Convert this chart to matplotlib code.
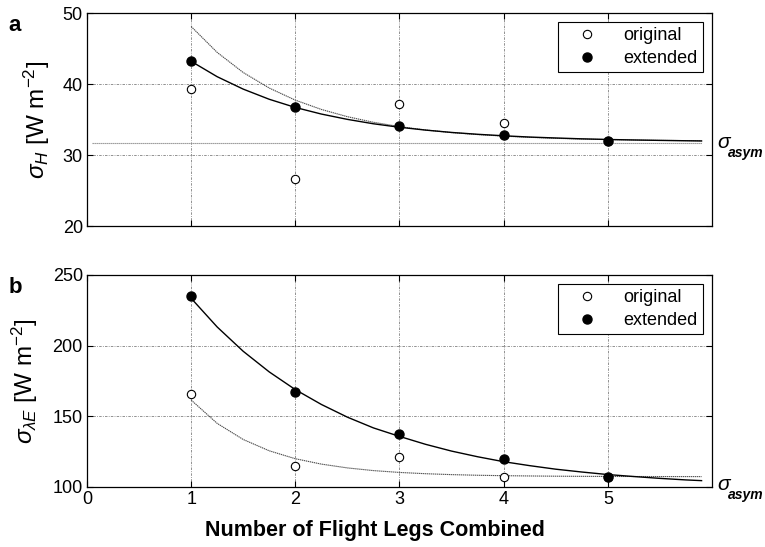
import matplotlib
matplotlib.use("Agg")
import matplotlib.pyplot as plt

plt.rcParams["font.family"] = ["Liberation Sans", "DejaVu Sans"]
plt.rcParams["mathtext.fontset"] = "custom"
plt.rcParams["mathtext.rm"] = "Liberation Sans"
plt.rcParams["mathtext.it"] = "Liberation Sans:italic"
plt.rcParams["mathtext.bf"] = "Liberation Sans:bold"

legs = [1, 2, 3, 4, 5]

# panel a: sensible heat flux error
h_original = [39.3, 26.6, 37.2, 34.5, 32.0]
h_extended = [43.3, 36.7, 34.1, 32.8, 32.0]
h_asym = 31.7

# panel b: latent heat flux error
le_original = [165.8, 115.1, 121.5, 106.8, 107.0]
le_extended = [235.4, 167.2, 137.2, 119.5, 107.2]

# fitted curves
fit_x = [1, 1.25, 1.5, 1.75, 2, 2.25, 2.5, 2.75, 3, 3.25, 3.5,
         3.75, 4, 4.25, 4.5, 4.75, 5, 5.25, 5.5, 5.75, 5.9]
h_fit_original = [48.1, 44.45, 41.62, 39.43, 37.73, 36.42, 35.40, 34.61,
                  34.00, 33.53, 33.16, 32.88, 32.66, 32.49, 32.35, 32.25,
                  32.17, 32.11, 32.06, 32.03, 32.01]
h_fit_extended = [43.2, 41.03, 39.28, 37.85, 36.70, 35.77, 35.02, 34.40,
                  33.91, 33.51, 33.18, 32.92, 32.71, 32.53, 32.40, 32.28,
                  32.19, 32.12, 32.06, 32.01, 31.98]
le_fit_original = [161.5, 145.0, 133.6, 125.6, 120.0, 116.2, 113.5, 111.6,
                   110.3, 109.4, 108.75, 108.3, 108.0, 107.8, 107.64, 107.54,
                   107.47, 107.42, 107.38, 107.36, 107.35]
le_fit_extended = [233.5, 213.2, 196.0, 181.4, 168.9, 158.4, 149.4, 141.8,
                   135.8, 130.2, 125.4, 121.4, 117.9, 115.1, 112.6, 110.6,
                   108.8, 107.4, 106.1, 105.0, 104.5]

fig = plt.figure(figsize=(7.65, 5.47), dpi=100)
ax_a = fig.add_axes([0.1137, 0.5868, 0.817, 0.3894])
ax_b = fig.add_axes([0.1137, 0.1097, 0.817, 0.3876])


def style_axis(ax, ylim, yticks):
    ax.set_xlim(0, 6)
    ax.set_ylim(*ylim)
    ax.set_xticks([0] + legs)
    ax.set_yticks(yticks)
    ax.grid(True, linestyle=(0, (3, 1.5, 1, 1.5)), linewidth=0.6, color="0.5")
    ax.tick_params(direction="in", top=True, right=True, length=4,
                   width=0.8, labelsize=13, pad=3)
    for s in ax.spines.values():
        s.set_linewidth(0.9)
    ax.set_axisbelow(True)


def draw_panel(ax, orig, ext, fit_o, fit_e):
    ax.plot(fit_x, fit_o, color="0.3", linestyle=(0, (1.2, 0.6)), lw=0.8)
    ax.plot(fit_x, fit_e, color="black", lw=1.0)
    ax.plot(legs, orig, "o", mfc="white", mec="black", mew=0.8, ms=6,
            label="original")
    ax.plot(legs, ext, "o", mfc="black", mec="black", ms=6.5,
            label="extended")
    leg = ax.legend(loc="upper right", fontsize=13, frameon=True,
                    fancybox=False, edgecolor="black", framealpha=1,
                    handlelength=2.6, handletextpad=0.7, borderpad=0.3,
                    labelspacing=0.3, borderaxespad=0.5)
    leg.get_frame().set_linewidth(0.8)


def asym_label(ax, yval):
    ax.annotate(r"$\sigma$", xy=(1, yval), xycoords=("axes fraction", "data"),
                xytext=(3.5, 0), textcoords="offset points", fontsize=15,
                va="center", ha="left", annotation_clip=False)
    ax.annotate("asym", xy=(1, yval), xycoords=("axes fraction", "data"),
                xytext=(11.5, -7), textcoords="offset points", fontsize=10,
                fontweight="bold", fontstyle="italic", va="center", ha="left",
                annotation_clip=False)


# panel a
style_axis(ax_a, (20, 50), [20, 30, 40, 50])
ax_a.plot([0.05, 5.9], [h_asym, h_asym], color="0.55",
          linestyle=(0, (1.2, 0.6)), lw=0.8)
draw_panel(ax_a, h_original, h_extended, h_fit_original, h_fit_extended)
ax_a.tick_params(labelbottom=False)
ax_a.set_ylabel(r"$\sigma_H$ [W m$^{-2}$]", fontsize=17.5, labelpad=8)
asym_label(ax_a, h_asym)
ax_a.text(-0.125, 0.99, "a", transform=ax_a.transAxes, fontsize=16,
          fontweight="bold", va="top", ha="left")

# panel b
style_axis(ax_b, (100, 250), [100, 150, 200, 250])
draw_panel(ax_b, le_original, le_extended, le_fit_original, le_fit_extended)
ax_b.set_ylabel(r"$\sigma_{\lambda E}$ [W m$^{-2}$]", fontsize=17.5, labelpad=9)
ax_b.set_xlabel("Number of Flight Legs Combined", fontsize=15.5,
                fontweight="bold")
ax_b.xaxis.set_label_coords(0.46, -0.155)
asym_label(ax_b, 101.5)
ax_b.text(-0.125, 0.99, "b", transform=ax_b.transAxes, fontsize=16,
          fontweight="bold", va="top", ha="left")

fig.savefig("out.png", dpi=100)
